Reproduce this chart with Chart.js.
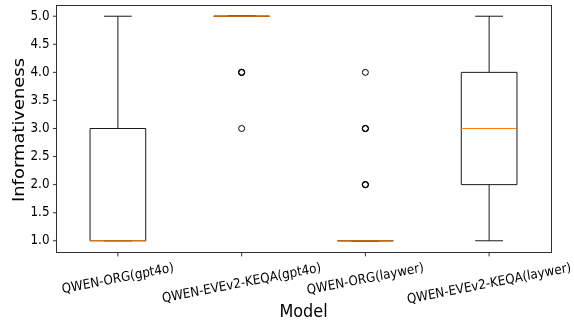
<!DOCTYPE html>
<html>
<head>
<meta charset="utf-8">
<script src="https://cdn.jsdelivr.net/npm/chart.js@4/dist/chart.umd.min.js"></script>
<style>
html,body{margin:0;padding:0;background:#fff;}
#wrap{width:574px;height:320px;position:relative;}
</style>
</head>
<body>
<div id="wrap"><canvas id="c"></canvas></div>
<script>
// ---- data ----
const categories = ['QWEN-ORG(gpt4o)', 'QWEN-EVEv2-KEQA(gpt4o)', 'QWEN-ORG(laywer)', 'QWEN-EVEv2-KEQA(laywer)'];
const q1Values = [1, 5, 1, 2];
const medianValues = [1, 5, 1, 3];
const q3Values = [3, 5, 1, 4];
const whiskerLow = [1, 5, 1, 1];
const whiskerHigh = [5, 5, 1, 5];
const flierValues = [[], [4, 4, 4, 3], [4, 3, 3, 3, 2, 2, 2], []];
const yTicks = [1.0, 1.5, 2.0, 2.5, 3.0, 3.5, 4.0, 4.5, 5.0];
const yTitle = 'Informativeness';
const xTitle = 'Model';

// figure was 800x400 scaled into 574x320
const SX = 574 / 800, SY = 320 / 400;
const FONT = '"DejaVu Sans", sans-serif';
const TICK_PX = 16.67, LABEL_PX = 22.4;
const BOX_W = 0.45, CAP_W = 0.225;
const LINE = '#1a1a1a';

function drawText(ctx, text, x, y, size, rot, align, baseline) {
  ctx.save();
  ctx.translate(x, y);
  ctx.scale(SX, SY);
  ctx.rotate(-rot * Math.PI / 180);
  ctx.font = size + 'px ' + FONT;
  ctx.textAlign = align;
  ctx.textBaseline = baseline;
  ctx.fillStyle = '#000';
  ctx.fillText(text, 0, 0);
  ctx.restore();
}

const boxPlugin = {
  id: 'boxParts',
  beforeDatasetsDraw(chart) {
    const ctx = chart.ctx, xs = chart.scales.x, ys = chart.scales.y;
    ctx.save();
    ctx.strokeStyle = LINE;
    ctx.lineWidth = 1;
    categories.forEach((c, i) => {
      const cx = xs.getPixelForValue(i + 1);
      const hw = xs.getPixelForValue(i + 1 + CAP_W / 2) - cx;
      const bw = xs.getPixelForValue(i + 1 + BOX_W / 2) - cx;
      const yq1 = ys.getPixelForValue(q1Values[i]);
      const yq3 = ys.getPixelForValue(q3Values[i]);
      const ylo = ys.getPixelForValue(whiskerLow[i]);
      const yhi = ys.getPixelForValue(whiskerHigh[i]);
      ctx.beginPath();
      ctx.moveTo(cx, yq1); ctx.lineTo(cx, ylo);
      ctx.moveTo(cx, yq3); ctx.lineTo(cx, yhi);
      ctx.moveTo(cx - hw, ylo); ctx.lineTo(cx + hw, ylo);
      ctx.moveTo(cx - hw, yhi); ctx.lineTo(cx + hw, yhi);
      ctx.stroke();
      ctx.beginPath();
      ctx.rect(cx - bw, yq3, 2 * bw, yq1 - yq3);
      ctx.stroke();
    });
    ctx.strokeStyle = '#ff7f0e';
    categories.forEach((c, i) => {
      const cx = xs.getPixelForValue(i + 1);
      const bw = xs.getPixelForValue(i + 1 + BOX_W / 2) - cx;
      const y = ys.getPixelForValue(medianValues[i]);
      ctx.beginPath();
      ctx.moveTo(cx - bw, y);
      ctx.lineTo(cx + bw, y);
      ctx.stroke();
    });
    ctx.restore();
  },
  afterDatasetsDraw(chart) {
    const ctx = chart.ctx, xs = chart.scales.x, ys = chart.scales.y, a = chart.chartArea;
    ctx.save();
    ctx.strokeStyle = LINE;
    ctx.lineWidth = 0.9;
    ctx.strokeRect(a.left + 0.5, a.top + 0.5, a.right - a.left, a.bottom - a.top);
    yTicks.forEach(v => {
      const y = ys.getPixelForValue(v);
      ctx.beginPath();
      ctx.moveTo(a.left + 0.5, y);
      ctx.lineTo(a.left + 0.5 - 4.86 * SX, y);
      ctx.stroke();
      drawText(ctx, v.toFixed(1), a.left - 9.72 * SX + 0.5, y, TICK_PX, 0, 'right', 'middle');
    });
    const rot = 10, r = rot * Math.PI / 180;
    categories.forEach((c, i) => {
      const x = xs.getPixelForValue(i + 1);
      ctx.beginPath();
      ctx.moveTo(x, a.bottom + 0.5);
      ctx.lineTo(x, a.bottom + 0.5 + 4.86 * SY);
      ctx.stroke();
      ctx.font = TICK_PX + 'px ' + FONT;
      const w = ctx.measureText(c).width;
      const h = 1.17 * TICK_PX;
      const H = w * Math.sin(r) + h * Math.cos(r);
      const cy = a.bottom + 0.5 + 9.72 * SY + (H / 2) * SY;
      drawText(ctx, c, x, cy, TICK_PX, rot, 'center', 'middle');
    });
    drawText(ctx, xTitle, (a.left + a.right) / 2, 316.7, LABEL_PX, 0, 'center', 'alphabetic');
    drawText(ctx, yTitle, 24, (a.top + a.bottom) / 2 + 1.5, LABEL_PX, 90, 'center', 'alphabetic');
    ctx.restore();
  }
};

const flierData = [];
flierValues.forEach((arr, i) => arr.forEach(v => flierData.push({ x: i + 1, y: v })));

new Chart(document.getElementById('c'), {
  type: 'scatter',
  data: {
    datasets: [
      {
        data: flierData,
        pointStyle: 'circle',
        pointRadius: 3,
        pointBorderWidth: 1,
        pointBackgroundColor: 'rgba(0,0,0,0)',
        pointBorderColor: '#000'
      }
    ]
  },
  options: {
    responsive: true,
    maintainAspectRatio: false,
    devicePixelRatio: 1,
    animation: false,
    layout: { padding: { left: 56, top: 5, right: 23, bottom: 68 } },
    plugins: { legend: { display: false }, tooltip: { enabled: false } },
    scales: {
      x: { type: 'linear', min: 0.5, max: 4.5, offset: false, display: false },
      y: { type: 'linear', min: 0.8, max: 5.2, display: false }
    }
  },
  plugins: [boxPlugin]
});
</script>
</body>
</html>
